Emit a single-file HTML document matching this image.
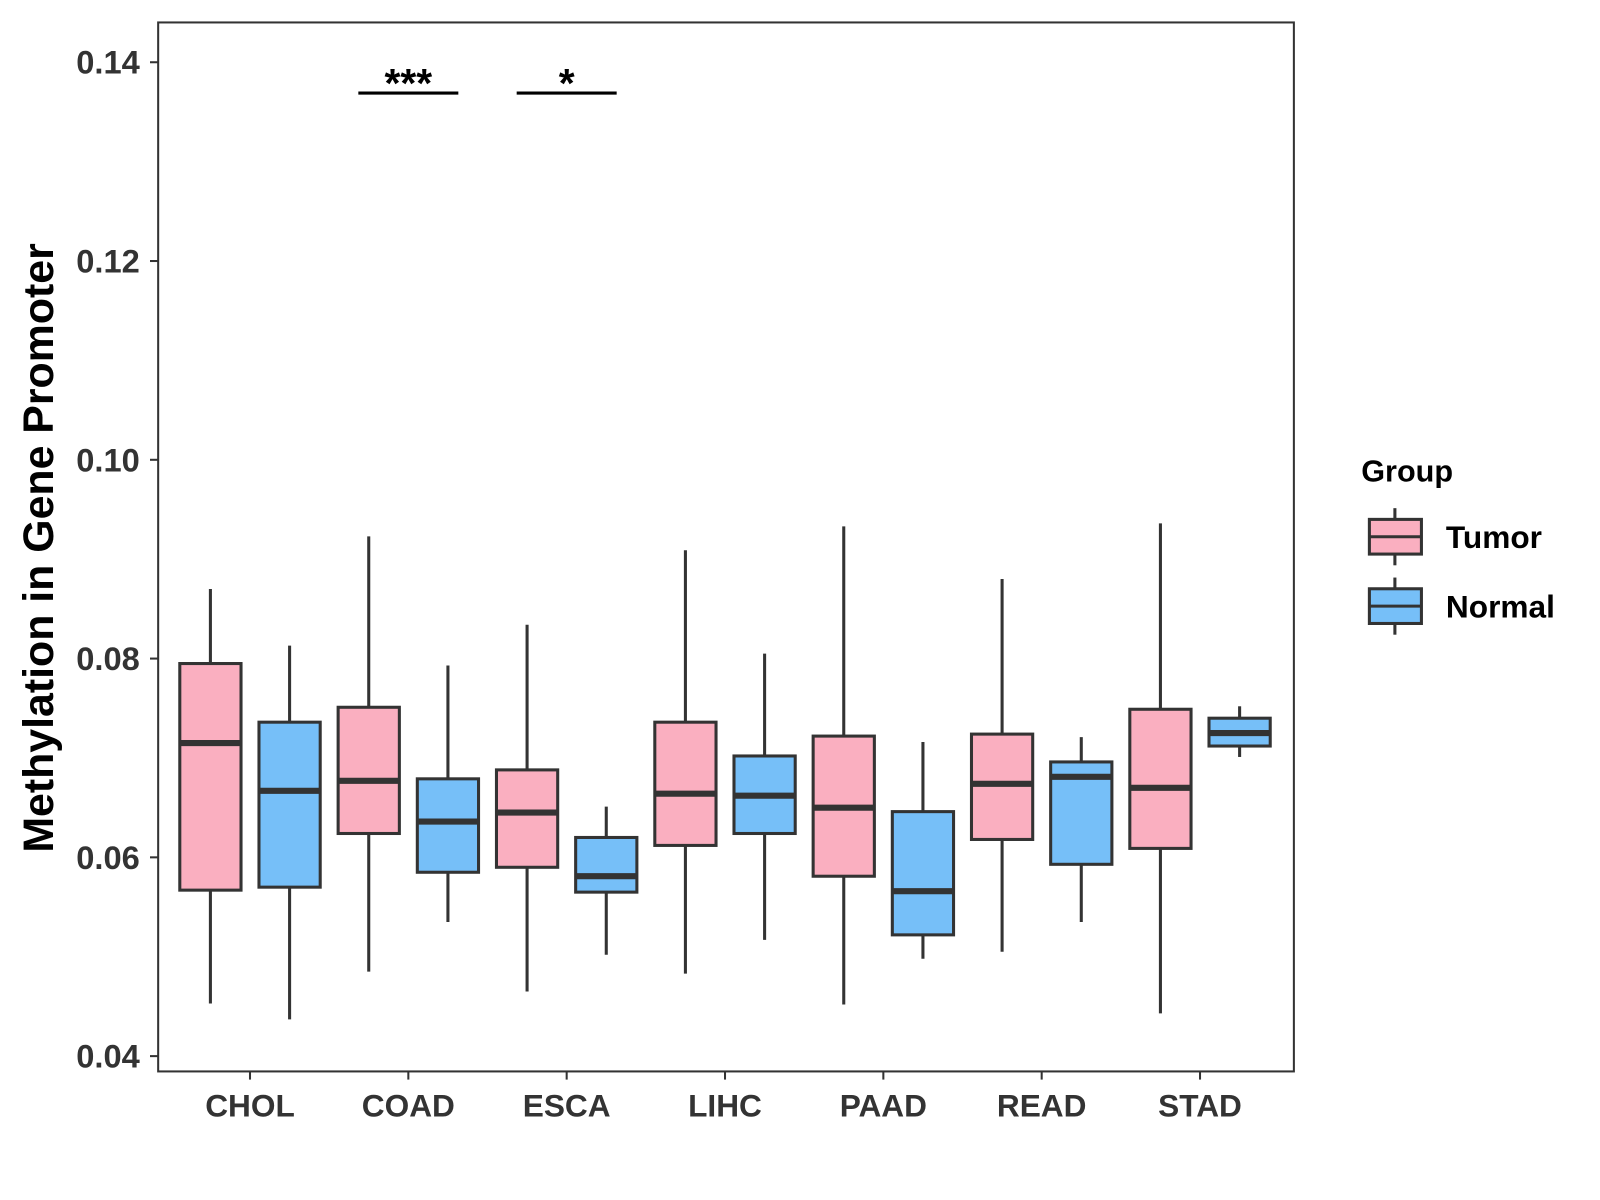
<!DOCTYPE html>
<html><head><meta charset="utf-8"><style>
html,body{margin:0;padding:0;background:#fff;}
svg{display:block;font-family:"Liberation Sans",Arial,sans-serif;font-weight:bold;}
</style></head><body>
<svg id="chart" width="1600" height="1200" viewBox="0 0 1568 1176" xmlns="http://www.w3.org/2000/svg">
<rect x="155" y="22" width="1113" height="1028" fill="#fff" stroke="#333" stroke-width="2"/>
<g id="marks"></g>
<text x="38" y="537" transform="rotate(-90 38 537)" text-anchor="middle" dominant-baseline="central" font-size="42" fill="#000">Methylation in Gene Promoter</text>
<g>
<text x="1334" y="472" font-size="30" fill="#000">Group</text>
<g>
<line x1="1367" y1="498" x2="1367" y2="554" stroke="#333" stroke-width="3"/>
<rect x="1342" y="509" width="51" height="34" fill="#FAAFC0" stroke="#333" stroke-width="3"/>
<line x1="1342" y1="526" x2="1393" y2="526" stroke="#333" stroke-width="3"/>
<text x="1417" y="537" font-size="31" fill="#000">Tumor</text></g>
<g>
<line x1="1367" y1="566" x2="1367" y2="622" stroke="#333" stroke-width="3"/>
<rect x="1342" y="577" width="51" height="34" fill="#76BFF8" stroke="#333" stroke-width="3"/>
<line x1="1342" y1="594" x2="1393" y2="594" stroke="#333" stroke-width="3"/>
<text x="1417" y="605" font-size="31" fill="#000">Normal</text></g>
</g>
</svg>
<script>
const categories=["CHOL","COAD","ESCA","LIHC","PAAD","READ","STAD"];
const tumorStats=[[0.0453,0.0567,0.0715,0.0795,0.0870],[0.0485,0.0624,0.0677,0.0751,0.0923],[0.0465,0.0590,0.0645,0.0688,0.0834],[0.0483,0.0612,0.0664,0.0736,0.0909],[0.0452,0.0581,0.0650,0.0722,0.0933],[0.0505,0.0618,0.0674,0.0724,0.0880],[0.0443,0.0609,0.0670,0.0749,0.0936]];
const normalStats=[[0.0437,0.0570,0.0667,0.0736,0.0813],[0.0535,0.0585,0.0636,0.0679,0.0793],[0.0502,0.0565,0.0581,0.0620,0.0651],[0.0517,0.0624,0.0662,0.0702,0.0805],[0.0498,0.0522,0.0566,0.0646,0.0716],[0.0535,0.0593,0.0681,0.0696,0.0721],[0.0701,0.0712,0.0725,0.0740,0.0752]];
const yTicks=[0.04,0.06,0.08,0.10,0.12,0.14];
const sigCats=["COAD","ESCA"];
const sigLabels=["***","*"];
const sigLevel=0.1369;
const NS="http://www.w3.org/2000/svg";
const svg=document.getElementById('chart'),g=document.getElementById('marks');
const y=v=>1035-(v-0.04)/0.10*974;
const x=i=>245+i*155.17;
function el(t,a,p){const e=document.createElementNS(NS,t);for(const k in a)e.setAttribute(k,a[k]);(p||g).appendChild(e);return e;}
yTicks.forEach(t=>{
 const l=el('line',{x1:147,x2:155,y1:y(t),y2:y(t),stroke:'#333','stroke-width':2});
 
 
 const tx=el('text',{x:137,y:y(t),'text-anchor':'end','dominant-baseline':'central','font-size':32,fill:'#333'});
 tx.textContent=t.toFixed(2);
 
 
});
categories.forEach((c,i)=>{
 const l=el('line',{x1:x(i),x2:x(i),y1:1050,y2:1058,stroke:'#333','stroke-width':2});
 
 
 const tx=el('text',{x:x(i),y:1094,'text-anchor':'middle','font-size':31,fill:'#333'});
 tx.textContent=c;
 
 
});
function box(cx,s,fill,name){
 const b=el('g',{});
 
 
 el('line',{x1:cx,x2:cx,y1:y(s[0]),y2:y(s[4]),stroke:'#333','stroke-width':3},b);
 el('rect',{x:cx-30,y:y(s[3]),width:60,height:y(s[1])-y(s[3]),fill:fill,stroke:'#333','stroke-width':3},b);
 el('line',{x1:cx-30,x2:cx+30,y1:y(s[2]),y2:y(s[2]),stroke:'#333','stroke-width':6},b);
}
categories.forEach((c,i)=>{
 box(x(i)-38.8,tumorStats[i],'#FAAFC0','box-tumor-'+c.toLowerCase());
 box(x(i)+38.8,normalStats[i],'#76BFF8','box-normal-'+c.toLowerCase());
});
sigCats.forEach((c,k)=>{
 const i=categories.indexOf(c);
 const l=el('line',{x1:x(i)-49,x2:x(i)+49,y1:y(sigLevel),y2:y(sigLevel),stroke:'#000','stroke-width':3});
 
 
 const t=el('text',{x:x(i),y:y(sigLevel)+4,'text-anchor':'middle','font-size':40,fill:'#000'});
 t.textContent=sigLabels[k];
 
 
});
</script>
</body></html>
